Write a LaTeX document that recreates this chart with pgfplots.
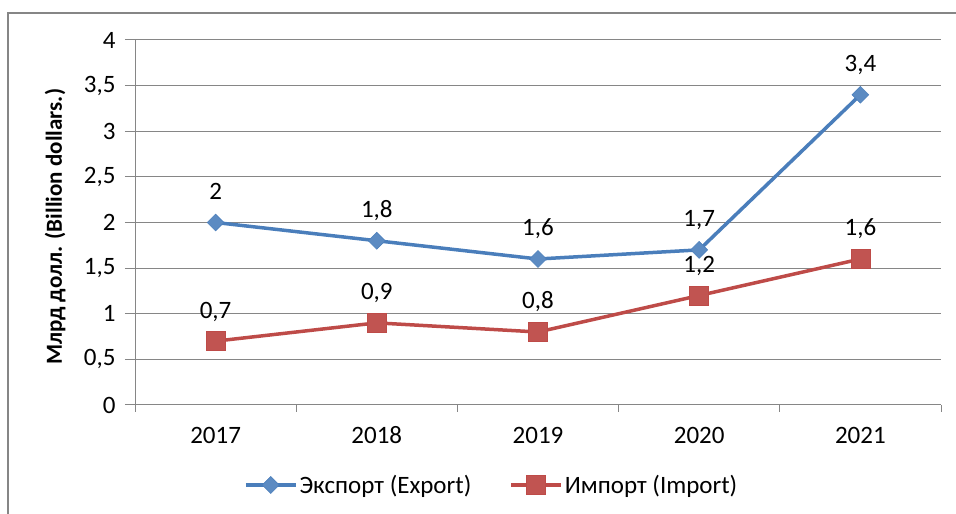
\documentclass[border=0pt]{standalone}
\usepackage{pgfplots}
\pgfplotsset{compat=1.18}
\usepackage{fontspec}
\setmainfont{Carlito}
\definecolor{expc}{HTML}{4A7EBB}
\definecolor{impc}{HTML}{BE4B48}
\definecolor{gridc}{HTML}{868686}
\newcommand\fs{\fontsize{25}{29}\selectfont}
\newcommand\fl{\fontsize{25}{29}\selectfont}
\newcommand\fy{\fontsize{23}{27}\selectfont}
\begin{document}
\begin{tikzpicture}[x=1pt,y=1pt]
\useasboundingbox (0,0) rectangle (956,514);
\begin{scope}
\clip (0,0) rectangle (956,514);
\draw[gridc, line width=2pt] (8,501) rectangle (970,-20);
\end{scope}
\begin{axis}[
  at={(135pt,109pt)}, anchor=south west,
  scale only axis, width=806pt, height=365pt,
  xmin=-0.5, xmax=4.5, ymin=0, ymax=4,
  axis lines*=left,
  axis line style={gridc, line width=1pt},
  xtick={0,1,2,3,4},
  xticklabels={2017,2018,2019,2020,2021},
  minor xtick={-0.5,0.5,1.5,2.5,3.5,4.5},
  ytick={0,0.5,...,4},
  ymajorgrids,
  grid style={gridc, line width=1pt},
  major x tick style={draw=none},
  minor x tick style={gridc, line width=1pt},
  major y tick style={gridc, line width=1pt},
  tick align=outside,
  major tick length=10pt,
  minor tick length=7pt,
  /pgf/number format/assume math mode=true,
  /pgf/number format/use comma,
  tick label style={font=\fs},
  yticklabel style={xshift=-6pt},
  xticklabel style={anchor=base, yshift=-28pt},
  ylabel={\textbf{Млрд долл. (Billion dollars.)}},
  ylabel style={font=\fy, at={(axis description cs:-0.099,0.488)}, anchor=center},
  nodes near coords,
  every node near coord/.style={font=\fs, anchor=base, yshift=23pt, text=black},
  legend style={at={(axis description cs:0.4425,-0.219)}, anchor=center, draw=none, font=\fl, legend columns=2,
    /tikz/every even column/.append style={column sep=36pt}},
  legend cell align=left,
  legend image code/.code={\draw[mark repeat=2, mark phase=2, #1] plot coordinates {(0pt,0pt) (25pt,0pt) (50pt,0pt)};},
]
\addplot[expc, line width=3.5pt, mark=square*, mark size=6pt, mark options={rotate=45, fill=expc!90!white, draw=expc, line width=0.5pt}]
  coordinates {(0,2) (1,1.8) (2,1.6) (3,1.7) (4,3.4)};
\addlegendentry{Экспорт (Export)}
\addplot[impc, line width=3.5pt, mark=square*, mark size=9.5pt, mark options={fill=impc!95!white, draw=impc, line width=0.5pt}]
  coordinates {(0,0.7) (1,0.9) (2,0.8) (3,1.2) (4,1.6)};
\addlegendentry{Импорт (Import)}
\end{axis}
\end{tikzpicture}
\end{document}
